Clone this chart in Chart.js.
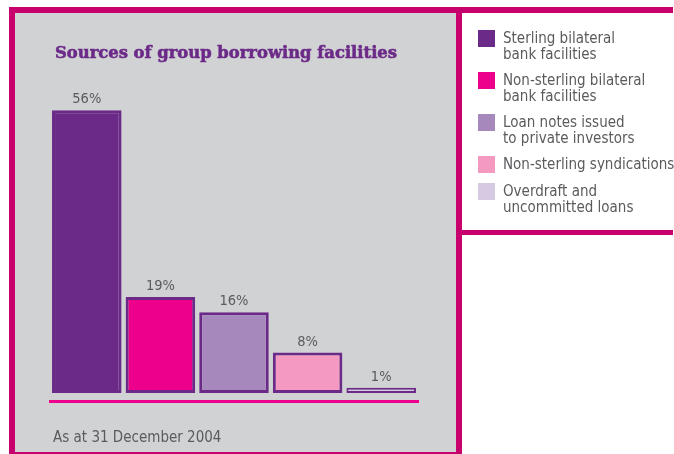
<!DOCTYPE html>
<html>
<head>
<meta charset="utf-8">
<script src="https://cdn.jsdelivr.net/npm/chart.js@4.4.1/dist/chart.umd.min.js"></script>
<style>
  html, body { margin: 0; padding: 0; width: 674px; height: 454px; overflow: hidden; background: #ffffff; }
  .panel {
    position: absolute; left: 9px; top: 7px; width: 453px; height: 451px;
    box-sizing: border-box; background: #d1d2d4; border: 6px solid #c8006e;
  }
  .legend-box {
    position: absolute; left: 462px; top: 7px; width: 211px; height: 228px;
    box-sizing: border-box; background: #ffffff;
    border-top: 6px solid #c8006e; border-bottom: 5px solid #c8006e;
  }
  .chart-wrap { position: absolute; left: 0; top: 0; width: 674px; height: 454px; }
  .title {
    position: absolute; left: 55px; top: 44px; white-space: nowrap;
    font-family: "DejaVu Serif", serif; font-weight: bold; font-size: 17px; line-height: 17px;
    color: #6c2a88; -webkit-text-stroke: 0.6px #6c2a88; transform-origin: 0 0;
  }
  .txt { font-family: "Liberation Sans Narrow", "DejaVu Sans Condensed", Lato, sans-serif; color: #5a5b5d; }
  .note { position: absolute; left: 53px; top: 428px; font-size: 15px; line-height: 18px; white-space: nowrap; }
  .legend { position: absolute; left: 478px; top: 30px; }
  .item { display: flex; align-items: flex-start; margin-bottom: 10px; }
  .swatch { width: 17px; height: 17px; flex: none; }
  .label { margin-left: 8px; font-size: 15px; line-height: 16px; white-space: nowrap; }
</style>
</head>
<body>
<div class="panel"></div>
<div class="legend-box"></div>
<div class="chart-wrap"><canvas id="chart"></canvas></div>
<div class="title" id="title"></div>
<div class="note txt" id="note"></div>
<div class="legend" id="legend"></div>
<script>
// Share of group borrowing facilities by source, 31 December 2004
const chartTitle = 'Sources of group borrowing facilities';
const footNote = 'As at 31 December 2004';
const categories = [
  ['Sterling bilateral', 'bank facilities'],
  ['Non-sterling bilateral', 'bank facilities'],
  ['Loan notes issued', 'to private investors'],
  ['Non-sterling syndications'],
  ['Overdraft and', 'uncommitted loans']
];
const shares = [56, 19, 16, 8, 1];
const fills = ['#6c2a88', '#ec008c', '#a688bc', '#f49ac1', '#d6cae2'];
const outline = '#6c2a88';
const rule = '#ec008c';

// Title, squeezed to the width of the plot
const titleEl = document.getElementById('title');
titleEl.textContent = chartTitle;
const titleWidth = titleEl.getBoundingClientRect().width;
titleEl.style.transform = 'scaleX(' + (342 / titleWidth) + ')';

document.getElementById('note').textContent = footNote;

// Legend, one row per source
const legendEl = document.getElementById('legend');
categories.forEach((lines, i) => {
  const item = document.createElement('div');
  item.className = 'item';
  const sw = document.createElement('div');
  sw.className = 'swatch';
  sw.style.background = fills[i];
  const lab = document.createElement('div');
  lab.className = 'label txt';
  lab.innerHTML = lines.join('<br>');
  item.appendChild(sw);
  item.appendChild(lab);
  legendEl.appendChild(item);
});

// Percentage above each bar
const valueLabels = {
  id: 'valueLabels',
  afterDatasetsDraw(chart) {
    const ctx = chart.ctx;
    const meta = chart.getDatasetMeta(0);
    ctx.save();
    ctx.font = '14.5px "Liberation Sans Narrow", "DejaVu Sans Condensed", Lato, sans-serif';
    ctx.fillStyle = '#5a5b5d';
    ctx.textAlign = 'center';
    ctx.textBaseline = 'alphabetic';
    meta.data.forEach((bar, i) => {
      ctx.fillText(shares[i] + '%', bar.x, bar.y - 7);
    });
    ctx.restore();
  }
};

new Chart(document.getElementById('chart'), {
  type: 'bar',
  data: {
    labels: categories.map(l => l.join(' ')),
    datasets: [{
      data: shares,
      backgroundColor: fills,
      borderColor: outline,
      // thinner outline on very short bars so their fill still shows
      borderWidth: ctx => (ctx.raw !== undefined && ctx.raw < 2 ? 2 : 3),
      borderSkipped: false,
      barPercentage: 0.945,
      categoryPercentage: 1
    }]
  },
  options: {
    responsive: true,
    maintainAspectRatio: false,
    animation: false,
    layout: { padding: { left: 50, right: 256, top: 90, bottom: 53 } },
    plugins: { legend: { display: false }, tooltip: { enabled: false }, title: { display: false } },
    scales: {
      x: {
        display: true,
        grid: { display: false, drawTicks: false },
        ticks: { display: false },
        border: { display: true, color: rule, width: 3 }
      },
      y: { display: false, min: -1.6, max: 60 }
    }
  },
  plugins: [valueLabels]
});
</script>
</body>
</html>
